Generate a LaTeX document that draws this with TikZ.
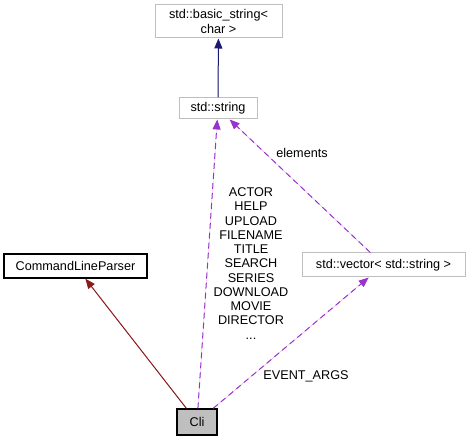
\documentclass[tikz,border=0pt]{standalone}
\usepackage{fontspec}
\setmainfont{Liberation Sans}
\definecolor{boxGray}{RGB}{191,191,191}
\definecolor{usePurple}{RGB}{154,50,205}
\definecolor{inhRed}{RGB}{139,26,26}
\definecolor{tplBlue}{RGB}{25,25,112}
\usetikzlibrary{arrows.meta}

\begin{document}
\begin{tikzpicture}[
  x=0.75pt, y=-0.75pt,
  box/.style={
    draw=boxGray, fill=white, line width=0.75pt, inner sep=0pt,
    align=center, font=\fontsize{9.5}{10.7}\selectfont
  },
  clsbox/.style={box, draw=black, line width=1pt},
  lbl/.style={align=center, inner sep=0pt, font=\fontsize{9.5}{10.7}\selectfont},
  usearr/.style={-{Triangle[length=7.5pt,width=6pt]}, draw=usePurple, fill=usePurple,
    line width=0.75pt, dash pattern=on 4.5pt off 3pt},
  inharr/.style={-{Triangle[length=7.5pt,width=6pt]}, draw=inhRed, fill=inhRed, line width=0.75pt},
  tplarr/.style={-{Triangle[length=7.5pt,width=6pt]}, draw=tplBlue, fill=tplBlue, line width=0.75pt}
]
  \useasboundingbox (0,0) rectangle (474,441);
  % classes
  \node[box, minimum width=95.25pt, minimum height=24.75pt] (bstr) at (218.5,21.5) {std::basic\_string<\\char >};
  \node[box, minimum width=58.5pt, minimum height=15.75pt] (str) at (218,108.5) {std::string};
  \node[clsbox, minimum width=107.25pt, minimum height=18pt] (clp) at (75.5,266) {CommandLineParser};
  \node[box, minimum width=122.25pt, minimum height=18pt] (vec) at (383.5,265) {std::vector< std::string >};
  \node[clsbox, fill=boxGray, minimum width=30pt, minimum height=19.5pt] (cli) at (197,422) {Cli};
  % edge labels
  \node[lbl] (lblflags) at (251,263.5) {ACTOR\\HELP\\UPLOAD\\FILENAME\\TITLE\\SEARCH\\SERIES\\DOWNLOAD\\MOVIE\\DIRECTOR\\...};
  \node[lbl] (lblelem) at (302,153) {elements};
  \node[lbl] (lblargs) at (306,376) {EVENT\_ARGS};
  % edges
  \draw[tplarr] (str) -- (bstr);
  \draw[inharr] (cli) -- (clp);
  \draw[usearr] (cli) -- (str);
  \draw[usearr] (cli) -- (vec);
  \draw[usearr] (vec) -- (str);
\end{tikzpicture}
\end{document}
